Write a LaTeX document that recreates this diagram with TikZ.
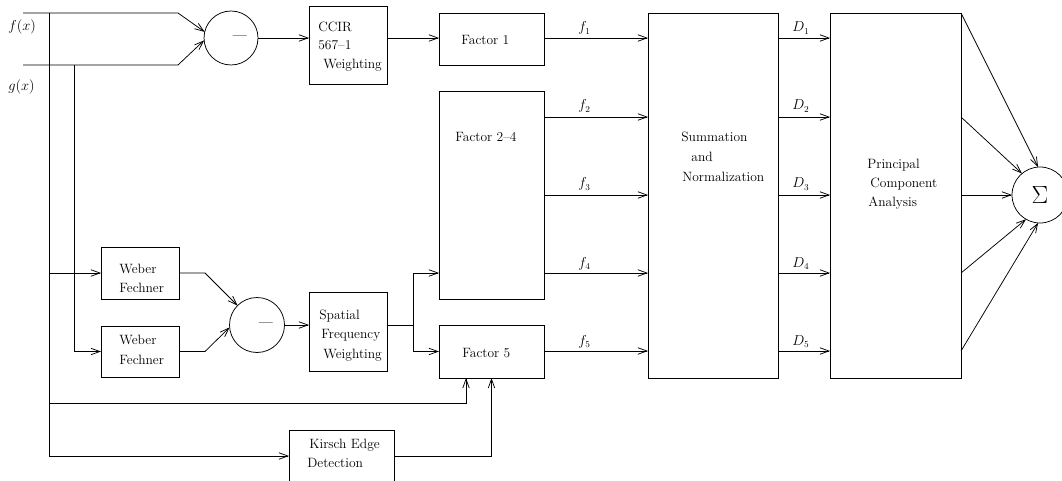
\documentclass[tikz,border=0pt]{standalone}
\usetikzlibrary{arrows.meta,calc}
\begin{document}
\begin{tikzpicture}[x=1pt,y=-1pt,
  font=\fontsize{13.5}{16}\selectfont,
  line width=0.75pt,
  arr/.style={-{Straight Barb[length=9pt,width=6.5pt]}},
  box/.style={draw,rectangle,inner sep=0pt,outer sep=0pt,anchor=north west},
  sumcirc/.style={draw,circle,inner sep=0pt,outer sep=0pt},
  lbl/.style={inner sep=0pt,anchor=base west},
  minus/.style={inner sep=0pt,anchor=base,font=\fontsize{12.5}{15}\selectfont\bfseries}]
\clip (0,0) rectangle (1062,481);
\fill[white] (0,0) rectangle (1062,481);

% boxes
\node[box,minimum width=78pt,minimum height=78pt] (ccir) at (309,6) {};
\node[box,minimum width=105pt,minimum height=52pt] (f1box) at (439,13) {};
\node[box,minimum width=105pt,minimum height=208pt] (f24) at (439,91) {};
\node[box,minimum width=105pt,minimum height=53pt] (f5) at (439,325) {};
\node[box,minimum width=130pt,minimum height=365pt] (sum) at (648,13) {};
\node[box,minimum width=131pt,minimum height=365pt] (pca) at (830,13) {};
\node[box,minimum width=78pt,minimum height=52pt] (wf1) at (101,247) {};
\node[box,minimum width=78pt,minimum height=51pt] (wf2) at (101,326) {};
\node[box,minimum width=78pt,minimum height=79pt] (sfw) at (309,292) {};
\node[box,minimum width=105pt,minimum height=52pt] (kir) at (289,430) {};
\node[sumcirc,minimum size=54pt] (c1) at (231,38) {};
\node[sumcirc,minimum size=55pt] (c2) at (257,325) {};
\node[sumcirc,minimum size=56pt] (sig) at (1040,195) {};

% texts
\node[lbl] (lf) at (8,31) {$f(x)$};
\node[lbl] (lg) at (8,91) {$g(x)$};
\node[minus] (m1) at (240,39.5) {---};
\node[minus] (m2) at (266,326.5) {---};
\node[inner sep=0pt] (sg) at (1040,195) {\fontsize{26}{26}\selectfont$\Sigma$};
\node[lbl] (ccir1) at (318,32) {CCIR};
\node[lbl] (ccir2) at (318,50) {567--1};
\node[lbl] (ccir3) at (323,69) {Weighting};
\node[lbl] (t1) at (461,45) {Factor 1};
\node[lbl] (t24) at (455,142) {Factor 2--4};
\node[lbl] (t5) at (462,357) {Factor 5};
\node[lbl] (s1) at (681,142) {Summation};
\node[lbl] (s2) at (691,162) {and};
\node[lbl] (s3) at (682,182) {Normalization};
\node[lbl] (p1) at (867,168) {Principal};
\node[lbl] (p2) at (870,188) {Component};
\node[lbl] (p3) at (868,207) {Analysis};
\node[lbl] (w11) at (119,273) {Weber};
\node[lbl] (w12) at (119,292) {Fechner};
\node[lbl] (w21) at (119,344) {Weber};
\node[lbl] (w22) at (119,364) {Fechner};
\node[lbl] (sp1) at (319,319) {Spatial};
\node[lbl] (sp2) at (321,338) {Frequency};
\node[lbl] (sp3) at (323,358) {Weighting};
\node[lbl] (k1) at (309,448) {Kirsch Edge};
\node[lbl] (k2) at (307,467) {Detection};
\node[lbl] (lf1) at (578,32) {$f_1$};
\node[lbl] (lf2) at (578,110) {$f_2$};
\node[lbl] (lf3) at (578,188) {$f_3$};
\node[lbl] (lf4) at (578,267) {$f_4$};
\node[lbl] (lf5) at (578,345) {$f_5$};
\node[lbl] (ld1) at (792,32) {$D_1$};
\node[lbl] (ld2) at (792,110) {$D_2$};
\node[lbl] (ld3) at (792,188) {$D_3$};
\node[lbl] (ld4) at (792,267) {$D_4$};
\node[lbl] (ld5) at (792,345) {$D_5$};

% coordinates
\coordinate (fs) at (23,13);
\coordinate (gs) at (23,65);
\coordinate (v1top) at (49,13);
\coordinate (v2top) at (74,65);
\coordinate (br) at (413,325);
\coordinate (o1) at (544,38);
\coordinate (o2) at (544,117);
\coordinate (o3) at (544,195);
\coordinate (o4) at (544,273);
\coordinate (o5) at (544,351);
\coordinate (in24) at (439,273);
\coordinate (f5a) at (466,378);
\coordinate (low) at (49,403);

% input lines
\draw[arr] (fs) -- (178,13) -- (c1.167);
\draw[arr] (gs) -- (178,65) -- (c1.185);
\draw[arr] (v1top) |- (kir.west);
\draw[arr] (v2top) |- (wf2.west);
\draw[arr] (v1top |- wf1.west) -- (wf1.west);
\draw[arr] (low) -| (f5a);
\draw[arr] (kir.east) -| (f5.south);

% upper chain
\draw[arr] (c1.east) -- (c1.east -| ccir.west);
\draw[arr] (o1 -| ccir.east) -- (o1 -| f1box.west);

% lower chain
\draw[arr] (wf1.east) -- ++(26,0) -- (c2.135);
\draw[arr] (wf2.east) -- ++(26,0) -- (c2.185);
\draw[arr] (c2.east) -- (c2.east -| sfw.west);
\draw (c2.east -| sfw.east) -- (br);
\draw[arr] (br) |- (in24);
\draw[arr] (br) |- (f5.west);

% factors to summation
\foreach \i in {1,...,5} {
  \draw[arr] (o\i) -- (o\i -| sum.west);
  \draw[arr] (o\i -| sum.east) -- (o\i -| pca.west);
}

% PCA to sigma
\draw[arr] (pca.north east) -- (sig.94);
\draw[arr] (o2 -| pca.east) -- (sig.130);
\draw[arr] (o3 -| pca.east) -- (sig.west);
\draw[arr] (o4 -| pca.east) -- (sig.240);
\draw[arr] (o5 -| pca.east) -- (sig.266);
\end{tikzpicture}
\end{document}
